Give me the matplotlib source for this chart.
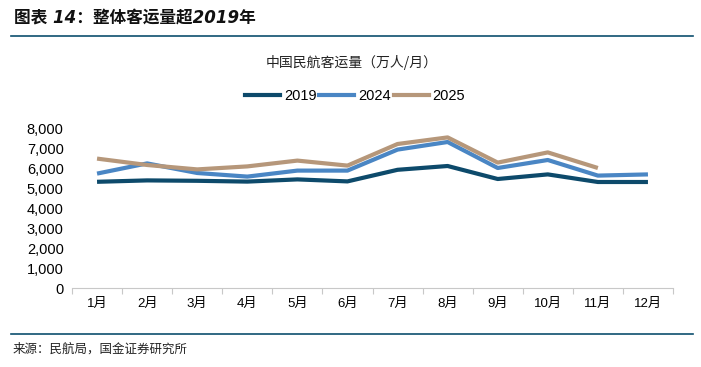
import matplotlib
matplotlib.use("Agg")
import matplotlib.pyplot as plt
from matplotlib.lines import Line2D

# Monthly passenger volume (10k persons / month)
months = ["1月", "2月", "3月", "4月", "5月", "6月",
          "7月", "8月", "9月", "10月", "11月", "12月"]
pax_2019 = [5310, 5380, 5360, 5320, 5430, 5330, 5910, 6100, 5450, 5680, 5300, 5300]
pax_2024 = [5720, 6230, 5750, 5570, 5870, 5870, 6920, 7300, 6000, 6400, 5620, 5680]
pax_2025 = [6470, 6150, 5930, 6080, 6370, 6120, 7200, 7530, 6270, 6780, 6000]
yticks = [0, 1000, 2000, 3000, 4000, 5000, 6000, 7000, 8000]

C2019 = "#0d4a6b"
C2024 = "#4a86c4"
C2025 = "#b6977a"
CJK = ["Liberation Sans", "Noto Sans CJK SC"]

fig = plt.figure(figsize=(7.01, 3.67), dpi=100)
W, H = 701, 367
ax = fig.add_axes([72 / W, 1 - 288 / H, 601 / W, 160 / H])

x = list(range(len(months)))
ax.plot(x, pax_2019, color=C2019, lw=3, solid_capstyle="butt")
ax.plot(x, pax_2024, color=C2024, lw=3, solid_capstyle="butt")
ax.plot(x[:len(pax_2025)], pax_2025, color=C2025, lw=3, solid_capstyle="butt")

ax.set_xlim(-0.5, len(months) - 0.5)
ax.set_ylim(0, 8000)
ax.set_yticks(yticks)
ax.set_yticklabels([f"{v:,}" for v in yticks], fontsize=10.5, family="Liberation Sans")
ax.tick_params(axis="y", length=0, pad=6)

# category labels between boundary ticks
ax.set_xticks([i - 0.5 for i in range(len(months) + 1)])
ax.set_xticklabels([])
ax.tick_params(axis="x", length=4, color="#c8c8c8", direction="out")
for i, m in enumerate(months):
    ax.text(i, -480, m, ha="center", va="top", fontsize=9.5, family=CJK)

for s in ["left", "right", "top"]:
    ax.spines[s].set_visible(False)
ax.spines["bottom"].set_color("#c8c8c8")

# legend
handles = [Line2D([], [], color=c, lw=3) for c in (C2019, C2024, C2025)]
fig.legend(handles, ["2019", "2024", "2025"], loc="center",
           bbox_to_anchor=(355 / W, 1 - 96 / H), ncol=3, frameon=False,
           handlelength=2.4, columnspacing=0.2, handletextpad=0.25,
           prop={"family": "Liberation Sans", "size": 10.5})

# chart title
fig.text(352 / W, 1 - 62 / H, "中国民航客运量（万人/月）", ha="center", va="center",
         fontsize=10, family=["Noto Sans CJK SC"], color="#222222")

# header
fig.text(14 / W, 1 - 18 / H, "图表 14：整体客运量超2019年", ha="left", va="center",
         fontsize=12, fontweight="bold", style="italic",
         family=["DejaVu Sans", "Noto Sans CJK SC"], color="#111111")
fig.add_artist(Line2D([11 / W, 693 / W], [1 - 36 / H, 1 - 36 / H], color="#0d4f6e", lw=1.2))

# footer
fig.add_artist(Line2D([11 / W, 693 / W], [1 - 334 / H, 1 - 334 / H], color="#0d4f6e", lw=1.2))
fig.text(13 / W, 1 - 349 / H, "来源：民航局，国金证券研究所", ha="left", va="center",
         fontsize=9, family=["Noto Sans CJK SC"], color="#222222")

fig.savefig("out.png", dpi=100)
